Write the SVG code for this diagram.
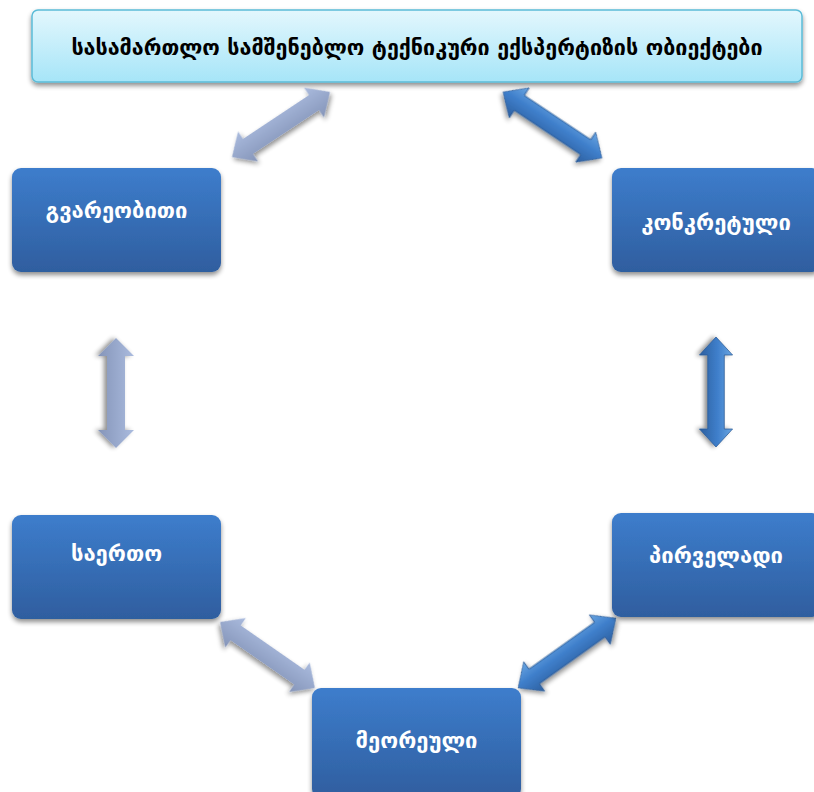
<svg xmlns="http://www.w3.org/2000/svg" width="814" height="792" viewBox="0 0 814 792">
<defs>
<linearGradient id="gTitle" x1="0" y1="0" x2="0" y2="1">
<stop offset="0" stop-color="#e3f7fd"/><stop offset="1" stop-color="#a6e5f8"/>
</linearGradient>
<linearGradient id="gNode" x1="0" y1="0" x2="0" y2="1">
<stop offset="0" stop-color="#3d7dcc"/><stop offset="1" stop-color="#2f5e9f"/>
</linearGradient>
<linearGradient id="gLight" x1="0" y1="0" x2="0" y2="1" gradientUnits="objectBoundingBox">
<stop offset="0" stop-color="#aabbde"/><stop offset="1" stop-color="#8595b9"/>
</linearGradient>
<linearGradient id="gDark" x1="0" y1="0" x2="0" y2="1">
<stop offset="0" stop-color="#6aa6e2"/><stop offset="0.45" stop-color="#3f7fcb"/><stop offset="1" stop-color="#2c5f9f"/>
</linearGradient>
<filter id="sh" x="-20%" y="-20%" width="140%" height="150%">
<feGaussianBlur in="SourceAlpha" stdDeviation="2.5"/>
<feOffset dx="0" dy="3" result="b"/>
<feComponentTransfer><feFuncA type="linear" slope="0.45"/></feComponentTransfer>
<feMerge><feMergeNode/><feMergeNode in="SourceGraphic"/></feMerge>
</filter>
<path id="dbl" d="M-55,0 L-37,-18 L-37,-9 L37,-9 L37,-18 L55,0 L37,18 L37,9 L-37,9 L-37,18 Z"/>
</defs>
<style>
.node rect{fill:url(#gNode);filter:url(#sh)}
.node text{fill:#ffffff;font-family:"DejaVu Sans",sans-serif;font-size:22px;font-weight:bold;text-anchor:middle}
.title text{fill:#000;font-family:"DejaVu Sans",sans-serif;font-size:21.5px;font-weight:bold;text-anchor:middle}
.light{fill:url(#gLight);filter:url(#sh)}
.dark{fill:url(#gDark);stroke:#2a5a96;stroke-width:0.8;filter:url(#sh)}
</style>
<g id="title" class="title">
<rect x="32" y="10" width="770" height="72" rx="6" fill="url(#gTitle)" stroke="#5bbcd8" stroke-width="1.5" filter="url(#sh)"/>
<text x="417" y="55">სასამართლო სამშენებლო ტექნიკური ექსპერტიზის ობიექტები</text>
</g>
<g id="connectors">
<use href="#dbl" class="light" transform="translate(281,124.5) rotate(-33.6) scale(1.07,1)"/>
<use href="#dbl" class="dark" transform="translate(552.5,125) rotate(33.7) scale(1.08,1)"/>
<use href="#dbl" class="light" transform="translate(116,393) rotate(90)"/>
<use href="#dbl" class="dark" transform="translate(716,392) rotate(90) scale(1,0.92)"/>
<use href="#dbl" class="light" transform="translate(267.5,655) rotate(34.8) scale(1.05,1)"/>
<use href="#dbl" class="dark" transform="translate(567,653) rotate(-35.5) scale(1.09,1)"/>
</g>
<g id="n_gvareobiti" class="node">
<rect x="12" y="168" width="209" height="104" rx="9"/>
<text x="116.5" y="218">გვარეობითი</text>
</g>
<g id="n_konkretuli" class="node">
<rect x="612" y="168" width="209" height="104" rx="9"/>
<text x="716" y="230">კონკრეტული</text>
</g>
<g id="n_saerto" class="node">
<rect x="12" y="515" width="209" height="104" rx="9"/>
<text x="116.5" y="561">საერთო</text>
</g>
<g id="n_pirveladi" class="node">
<rect x="612" y="513" width="209" height="104" rx="9"/>
<text x="716" y="563">პირველადი</text>
</g>
<g id="n_meoreuli" class="node">
<rect x="312" y="688" width="209" height="110" rx="9"/>
<text x="416.5" y="748">მეორეული</text>
</g>
</svg>
